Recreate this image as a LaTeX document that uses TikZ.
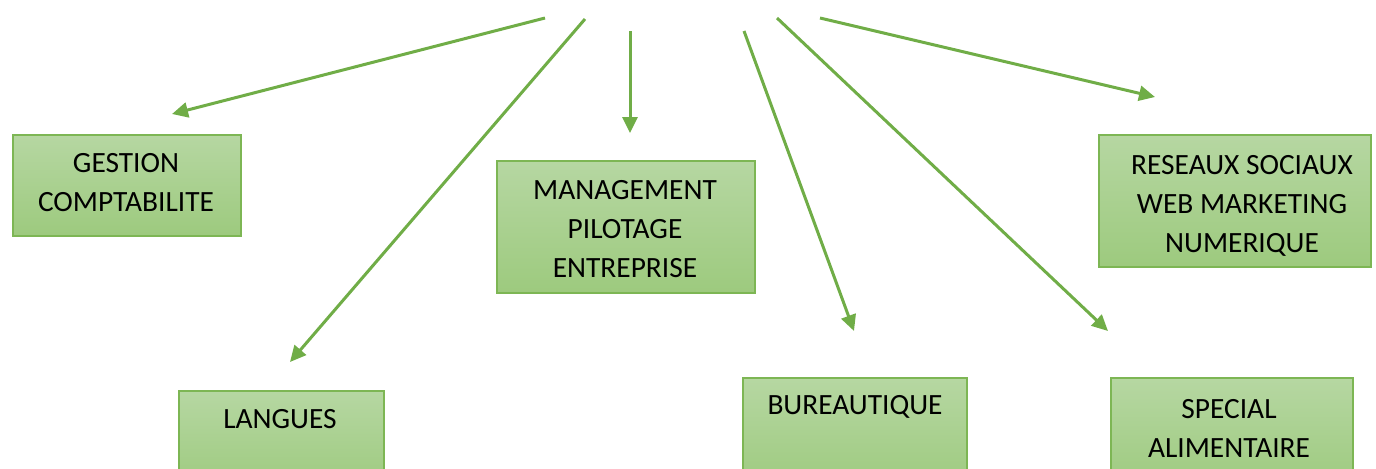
\documentclass[tikz,border=0pt]{standalone}
\usepackage{fontspec}
\setmainfont{Carlito}
\usetikzlibrary{arrows.meta}
\definecolor{arrowgreen}{HTML}{70AD47}
\definecolor{boxtop}{HTML}{B6D7A2}
\definecolor{boxbot}{HTML}{9DCA7E}
\definecolor{boxline}{HTML}{7DB654}
\tikzset{
  box/.style={draw=boxline, line width=0.75pt, top color=boxtop, bottom color=boxbot, rectangle, anchor=north west, inner sep=0pt},
  txt/.style={align=center, font=\fontsize{14.7}{19.5}\selectfont, inner sep=0pt, text=black},
  conn/.style={draw=arrowgreen, line width=1.5pt, -{Triangle[length=8pt,width=7.5pt]}}
}
\begin{document}
\begin{tikzpicture}[x=0.5pt,y=-0.5pt]
\useasboundingbox (0,0) rectangle (1376,468);
\clip (0,0) rectangle (1376,468);
% boxes
\node[box, minimum width=114pt, minimum height=50.5pt] (gestion) at (12,134) {};
\node[box, minimum width=102.5pt, minimum height=50pt] (langues) at (178,390) {};
\node[box, minimum width=129pt, minimum height=66pt] (management) at (496,160) {};
\node[box, minimum width=112pt, minimum height=56.5pt] (bureau) at (742,377) {};
\node[box, minimum width=136pt, minimum height=66pt] (reseaux) at (1098,134) {};
\node[box, minimum width=121pt, minimum height=56.5pt] (special) at (1110,377) {};
% texts
\node[txt] (tgestion) at (126,183) {GESTION\\COMPTABILITE};
\node[txt] (tlangues) at (280,419) {LANGUES};
\node[txt] (tmanagement) at (625,229) {MANAGEMENT\\PILOTAGE\\ENTREPRISE};
\node[txt] (tbureau) at (855,407) {BUREAUTIQUE};
\node[txt] (treseaux) at (1242,206) {RESEAUX SOCIAUX\\WEB MARKETING\\NUMERIQUE};
\node[txt] (tspecial) at (1229,428) {SPECIAL\\ALIMENTAIRE};
% connector ends
\coordinate (s1) at (545,18);  \coordinate (e1) at (172,114);
\coordinate (s2) at (585,19);  \coordinate (e2) at (290,362);
\coordinate (s3) at (630,31);  \coordinate (e3) at (630,133);
\coordinate (s4) at (744,31);  \coordinate (e4) at (854,331);
\coordinate (s5) at (777,18);  \coordinate (e5) at (1108,331);
\coordinate (s6) at (820,18);  \coordinate (e6) at (1155,97);
\draw[conn] (s1) -- (e1);
\draw[conn] (s2) -- (e2);
\draw[conn] (s3) -- (e3);
\draw[conn] (s4) -- (e4);
\draw[conn] (s5) -- (e5);
\draw[conn] (s6) -- (e6);
\end{tikzpicture}
\end{document}
